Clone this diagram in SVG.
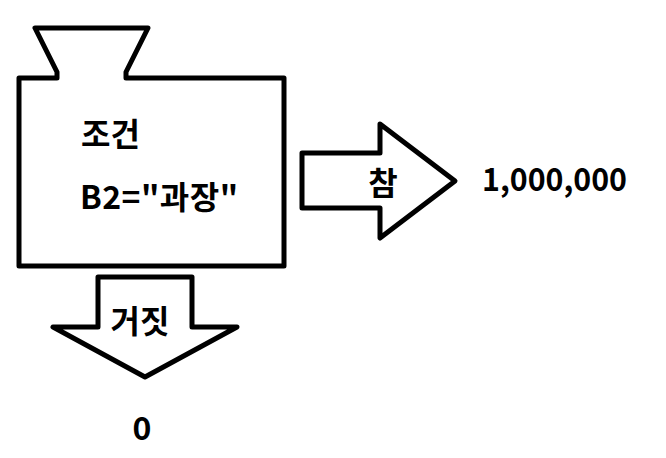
<svg xmlns="http://www.w3.org/2000/svg" width="666" height="458" viewBox="0 0 666 458">
<style>
.shape{fill:#fff;stroke:#000;stroke-width:5;stroke-linejoin:round}
.t{font-family:"Noto Sans CJK KR","Liberation Sans",sans-serif;font-weight:bold;font-size:32px;fill:#000}
</style>
<rect width="666" height="458" fill="#fff"/>
<g id="condition">
<path class="shape" d="M19,78 L57,78 L57,72 L35,28 L148,28 L126,72 L126,78 L284,78 L284,266 L19,266 Z"/>
<text class="t" x="81" y="146">조건</text>
<text class="t" x="80" y="209" textLength="158" lengthAdjust="spacing">B2="과장"</text>
</g>
<g id="connectors">
<g id="true-arrow">
<polygon class="shape" points="302,153 380,153 380,124 455,181 380,238 380,208 302,208"/>
<text class="t" x="383" y="195" text-anchor="middle">참</text>
</g>
<g id="false-arrow">
<polygon class="shape" points="98,277 192,277 192,327 237,327 145,377 53,327 98,327"/>
<text class="t" x="140" y="333" text-anchor="middle">거짓</text>
</g>
</g>
<g id="true-result">
<text class="t" x="482" y="191" textLength="145" lengthAdjust="spacingAndGlyphs">1,000,000</text>
</g>
<g id="false-result">
<text class="t" x="142" y="440" text-anchor="middle">0</text>
</g>
</svg>
